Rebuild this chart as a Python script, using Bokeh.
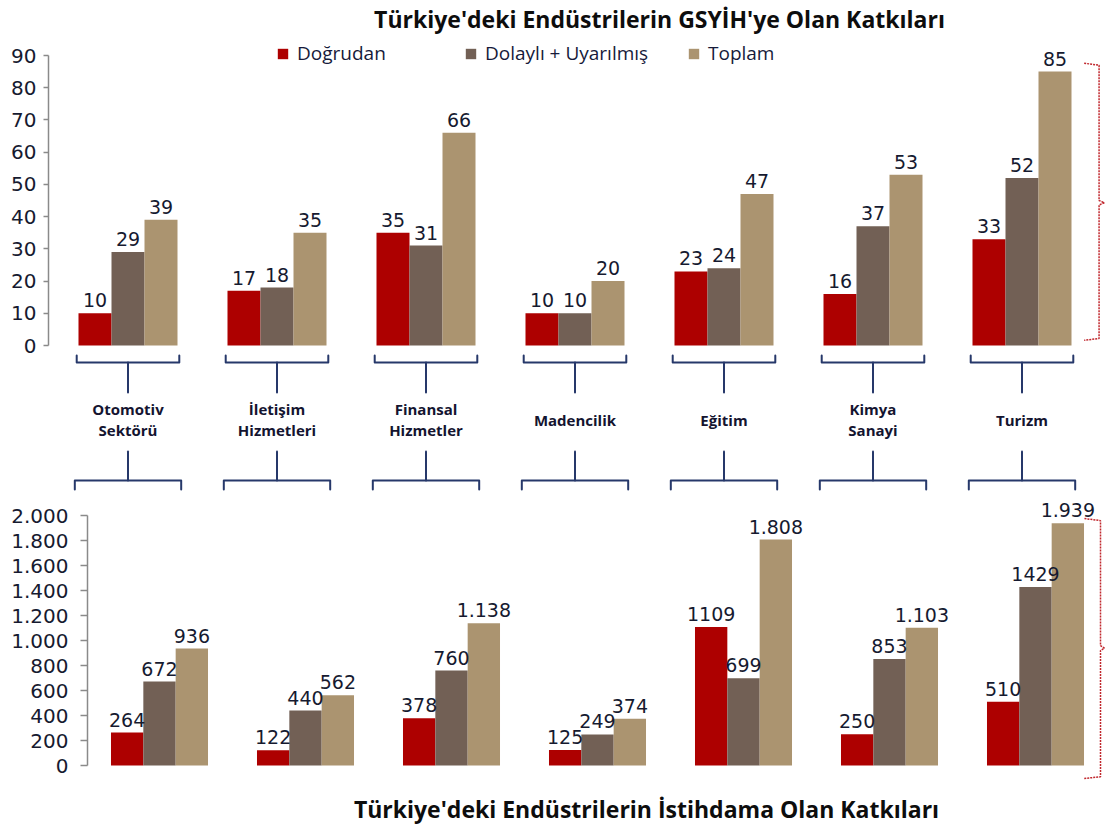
from bokeh.plotting import figure
from bokeh.models import (ColumnDataSource, Range1d, LinearAxis, FixedTicker,
                          LabelSet, Label, Legend, LegendItem)
from bokeh.embed import file_html
from bokeh.resources import INLINE
from bokeh.core.properties import value

# ---------------- data ----------------
categories = ["Otomotiv\nSektörü", "İletişim\nHizmetleri", "Finansal\nHizmetler",
              "Madencilik", "Eğitim", "Kimya\nSanayi", "Turizm"]
series_names = ["Doğrudan", "Dolaylı + Uyarılmış", "Toplam"]

gdp_direct = [10, 17, 35, 10, 23, 16, 33]
gdp_indirect = [29, 18, 31, 10, 24, 37, 52]
gdp_total = [39, 35, 66, 20, 47, 53, 85]

emp_direct = [264, 122, 378, 125, 1109, 250, 510]
emp_indirect = [672, 440, 760, 249, 699, 853, 1429]
emp_total = [936, 562, 1138, 374, 1808, 1103, 1939]

gdp_ticks = [0, 10, 20, 30, 40, 50, 60, 70, 80, 90]
gdp_tick_labels = ["0", "10", "20", "30", "40", "50", "60", "70", "80", "90"]
emp_ticks = [0, 200, 400, 600, 800, 1000, 1200, 1400, 1600, 1800, 2000]
emp_tick_labels = ["0", "200", "400", "600", "800", "1.000", "1.200", "1.400",
                   "1.600", "1.800", "2.000"]

title_top = "Türkiye'deki Endüstrilerin GSYİH'ye Olan Katkıları"
title_bottom = "Türkiye'deki Endüstrilerin İstihdama Olan Katkıları"

# ---------------- style ----------------
RED = "#AD0000"
BROWN = "#726055"
TAN = "#AB9470"
NAVY = "#26386A"
NUM_COLOR = "#161A30"
AXIS_GRAY = "#8A8A8A"
BRACE_RED = "#C0272D"
NUM_FONT = "DejaVu Sans"
TXT_FONT = "Open Sans"

W, H = 1107, 829
BW = 0.2215  # bar width, in category units

idx = list(range(len(categories)))

# pixel geometry of the two panels (one canvas)
TOP_C0, TOP_STEP = 127.5, 149.0      # px of first group centre, px per group
TOP_Y0, TOP_PXU = 345.0, 3.2222      # px of value 0, px per unit
BOT_C0, BOT_STEP = 159.0, 146.0
BOT_Y0, BOT_UPX = 765.0, 8.0         # px of value 0, units per px


def tx(px):
    return (px - TOP_C0) / TOP_STEP


def ty(py):
    return (TOP_Y0 - py) / TOP_PXU


def bx(px):
    return (px - BOT_C0) / BOT_STEP


def by(py):
    return (BOT_Y0 - py) * BOT_UPX


def fmt_dot(v):
    return f"{v:,}".replace(",", ".")


def style_axis(ax, tick_out, standoff):
    ax.axis_line_color = AXIS_GRAY
    ax.axis_line_width = 1.5
    ax.major_tick_line_color = AXIS_GRAY
    ax.major_tick_line_width = 1.5
    ax.major_tick_out = tick_out
    ax.major_tick_in = 0
    ax.minor_tick_line_color = None
    ax.major_label_text_font = NUM_FONT
    ax.major_label_text_font_size = "20px"
    ax.major_label_text_color = NUM_COLOR
    ax.major_label_standoff = standoff


p = figure(width=W, height=H, output_backend="svg", toolbar_location=None,
           x_range=Range1d(tx(0), tx(W)), y_range=Range1d(ty(H), ty(0)),
           x_axis_location=None, y_axis_location=None,
           min_border=0, outline_line_color=None)
p.extra_x_ranges = {"bx": Range1d(bx(0), bx(W))}
p.extra_y_ranges = {"by": Range1d(by(H), by(0))}
p.grid.visible = False


def add_bars(direct, indirect, total, labels, xr="default", yr="default"):
    rends = []
    for k, (vals, col, labs) in enumerate(zip([direct, indirect, total],
                                              [RED, BROWN, TAN], labels)):
        xs = [i + (k - 1) * BW for i in idx]
        src = ColumnDataSource(dict(x=xs, top=vals, lab=labs))
        r = p.vbar(x="x", top="top", bottom=0, width=BW, source=src,
                   fill_color=col, line_color=None,
                   x_range_name=xr, y_range_name=yr)
        rends.append(r)
        p.add_layout(LabelSet(x="x", y="top", text="lab", source=src,
                              x_range_name=xr, y_range_name=yr,
                              text_align="center", text_baseline="bottom",
                              y_offset=6, text_font=value(NUM_FONT),
                              text_font_size="19px", text_color=NUM_COLOR))
    return rends


# ---------------- top chart (GSYİH) ----------------
ax1 = LinearAxis(ticker=FixedTicker(ticks=gdp_ticks), bounds=(0, 90),
                 fixed_location=tx(48),
                 major_label_overrides=dict(zip(gdp_ticks, gdp_tick_labels)))
style_axis(ax1, 5, 7)
p.add_layout(ax1, "left")

r1 = add_bars(gdp_direct, gdp_indirect, gdp_total,
              [[str(v) for v in gdp_direct], [str(v) for v in gdp_indirect],
               [str(v) for v in gdp_total]])

# brackets linking groups and names
hw_up = 1.5 * BW + 0.012
hw_lo = 0.357
bx_l, by_l = [], []
for i in idx:
    bx_l.append([i - hw_up, i - hw_up, i + hw_up, i + hw_up])
    by_l.append([ty(355), ty(362), ty(362), ty(355)])
    bx_l.append([i, i])
    by_l.append([ty(362), ty(392)])
    bx_l.append([i, i])
    by_l.append([ty(451), ty(480)])
    bx_l.append([i - hw_lo, i - hw_lo, i + hw_lo, i + hw_lo])
    by_l.append([ty(489), ty(480), ty(480), ty(489)])
p.multi_line(xs=bx_l, ys=by_l, line_color=NAVY, line_width=2,
             line_join="round", line_cap="round")

# category names
p.text(x=idx, y=[ty(419)] * len(idx), text=categories, text_align="center",
       text_baseline="middle", text_font=value(TXT_FONT),
       text_font_style="bold", text_font_size="15px", text_color="#141430",
       text_line_height=1.05)

# red dashed brace (right of top chart)
tmax = max(gdp_total)
xe = len(idx) - 1 + 1.5 * BW
p.line(x=[xe + 0.085, xe + 0.185, xe + 0.185, xe + 0.22, xe + 0.185, xe + 0.185, xe + 0.085],
       y=[tmax + 2.6, tmax + 2.0, tmax / 2 + 2.5, tmax / 2 + 1.8, tmax / 2 + 1.1, 2.2, 1.6],
       line_color=BRACE_RED, line_width=1.5, line_dash="2 1")

# title
p.add_layout(Label(x=tx(659), y=ty(18), text=title_top, text_align="center",
                   text_baseline="middle", text_font=TXT_FONT,
                   text_font_style="bold", text_font_size="23px",
                   text_color="#0D0D0D"))

# legend: three separate entries
for r, name, lx in zip(r1, series_names, [276, 464, 687]):
    lg = Legend(items=[LegendItem(label=name, renderers=[r])],
                location=(lx, H - 66), orientation="horizontal",
                glyph_width=13, glyph_height=13, label_standoff=8,
                padding=0, margin=0, spacing=0, border_line_color=None,
                background_fill_alpha=0, label_text_font=TXT_FONT,
                label_text_font_size="19px", label_text_color="#161A3A")
    p.add_layout(lg, "center")

# ---------------- bottom chart (İstihdam) ----------------
ax2 = LinearAxis(ticker=FixedTicker(ticks=emp_ticks), bounds=(0, 2000),
                 x_range_name="bx", y_range_name="by", fixed_location=bx(87),
                 major_label_overrides=dict(zip(emp_ticks, emp_tick_labels)))
style_axis(ax2, 7, 12)
p.add_layout(ax2, "left")

add_bars(emp_direct, emp_indirect, emp_total,
         [[str(v) for v in emp_direct], [str(v) for v in emp_indirect],
          [fmt_dot(v) for v in emp_total]], xr="bx", yr="by")

emax = max(emp_total)
xe2 = len(idx) - 1 + 1.5 * BW
p.line(x=[xe2 + 0.003, xe2 + 0.113, xe2 + 0.113, xe2 + 0.14, xe2 + 0.113, xe2 + 0.113, xe2],
       y=[emax + 37, emax + 20, emax / 2 - 10, emax / 2 - 30, emax / 2 - 50, -90, -104],
       line_color=BRACE_RED, line_width=1.5, line_dash="2 1",
       x_range_name="bx", y_range_name="by")

p.add_layout(Label(x=bx(646), y=by(808), text=title_bottom, text_align="center",
                   text_baseline="middle", text_font=TXT_FONT,
                   text_font_style="bold", text_font_size="23px",
                   text_color="#0D0D0D", x_range_name="bx", y_range_name="by"))

open("out.html", "w").write(file_html(p, INLINE))
